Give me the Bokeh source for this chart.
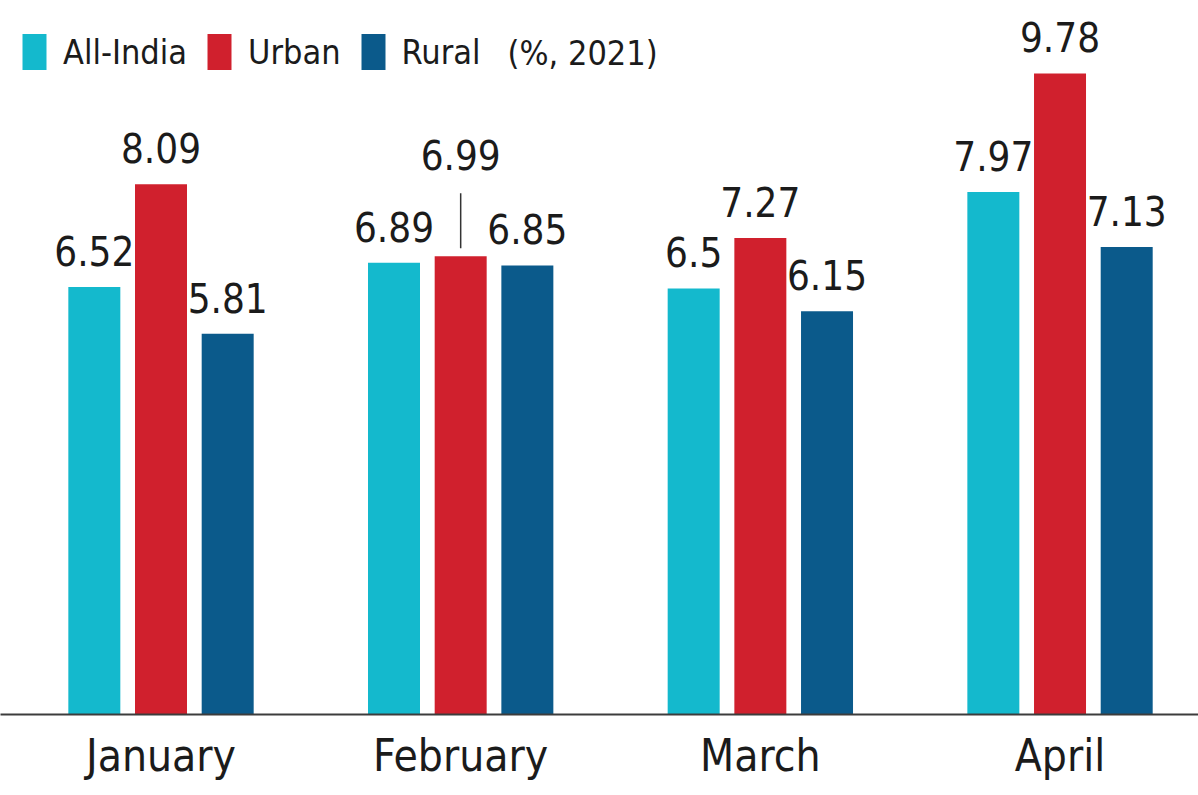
from bokeh.plotting import figure
from bokeh.models import ColumnDataSource, Range1d, FixedTicker, Label, Legend
from bokeh.core.properties import value
from bokeh.embed import file_html
from bokeh.resources import INLINE

# ---- data ----
months = ["January", "February", "March", "April"]
series = ["All-India", "Urban", "Rural"]
all_india = [6.52, 6.89, 6.5, 7.97]
urban = [8.09, 6.99, 7.27, 9.78]
rural = [5.81, 6.85, 6.15, 7.13]
unit_note = "(%, 2021)"

colors = ["#14b9cd", "#d0202d", "#0b5a8b"]
FONT = "DejaVu Sans Condensed, sans-serif"
TXT = "#1b1b1b"

p = figure(width=1198, height=795, output_backend="svg", toolbar_location=None,
           x_range=Range1d(-0.5356, 3.4621), y_range=Range1d(0, 10.892),
           y_axis_location=None, min_border_left=0, min_border_right=0,
           min_border_top=0, min_border_bottom=81)
p.outline_line_color = None
p.xgrid.visible = False
p.ygrid.visible = False

offset = 0.2225
bw = 0.1735
renderers = []
for j, (name, vals) in enumerate(zip(series, [all_india, urban, rural])):
    xs = [i + (j - 1) * offset for i in range(len(months))]
    src = ColumnDataSource(dict(x=xs, top=vals, lab=[f"{v:g}" for v in vals]))
    r = p.vbar(x="x", top="top", width=bw, source=src, fill_color=colors[j],
               line_color=None)
    renderers.append((name, r))
    if name == "Urban":
        # February's Urban label is lifted above its neighbours with a leader line
        k = months.index("February")
        keep = [m for m in range(len(months)) if m != k]
        lsrc = ColumnDataSource(dict(x=[xs[m] for m in keep], top=[vals[m] for m in keep],
                                     lab=[f"{vals[m]:g}" for m in keep]))
        rsrc = ColumnDataSource(dict(x=[xs[k]], y=[vals[k]], lab=[f"{vals[k]:g}"],
                                     y0=[vals[k] + 0.122], y1=[vals[k] + 0.96]))
        p.text(x="x", y="y", text="lab", source=rsrc, y_offset=-101,
               text_align="center", text_baseline="alphabetic",
               text_font=value(FONT), text_font_size="40px", text_color=TXT)
        p.segment(x0="x", x1="x", y0="y0", y1="y1", source=rsrc,
                  line_color="#333333", line_width=1.5)
    else:
        lsrc = src
    p.text(x="x", y="top", text="lab", source=lsrc,
           y_offset=-36, text_align="center", text_baseline="alphabetic",
           text_font=value(FONT), text_font_size="40px", text_color=TXT)

# x axis with month labels
ax = p.xaxis[0]
ax.ticker = FixedTicker(ticks=list(range(len(months))))
ax.major_label_overrides = {i: m for i, m in enumerate(months)}
ax.major_label_text_font = FONT
ax.major_label_text_font_size = "44px"
ax.major_label_text_color = TXT
ax.major_label_standoff = 15
ax.major_tick_line_color = None
ax.minor_tick_line_color = None
ax.major_tick_in = 0
ax.major_tick_out = 0
ax.axis_line_color = "#3c3c3c"
ax.axis_line_width = 2

legend = Legend(items=[(n, [r]) for n, r in renderers], orientation="horizontal",
                location=(19, 640), glyph_width=30, glyph_height=45, label_height=45,
                label_text_font=FONT, label_text_font_size="34px",
                label_text_color=TXT, label_standoff=14, spacing=17,
                padding=0, margin=0, background_fill_alpha=0,
                border_line_color=None)
p.add_layout(legend, "center")

p.add_layout(Label(x=507, y=662, x_units="screen", y_units="screen", text=unit_note,
                   text_font=FONT, text_font_size="34px", text_color=TXT,
                   text_baseline="middle"))

open("out.html", "w").write(file_html(p, INLINE))
